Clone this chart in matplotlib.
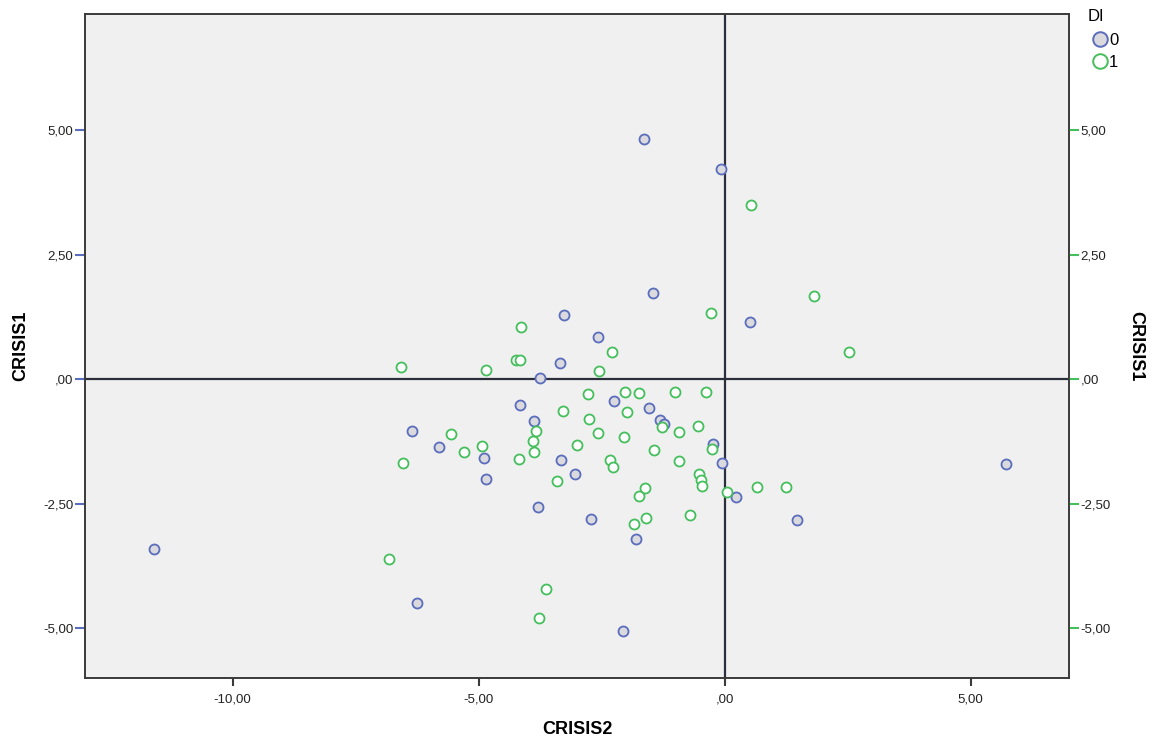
import matplotlib
matplotlib.use("Agg")
import matplotlib.pyplot as plt
from matplotlib.lines import Line2D
from matplotlib.ticker import FuncFormatter

# ── Data ──────────────────────────────────────────────────────────────────────

# DI = 0
di0_x = [-1.63, -0.08, -1.46, 0.51, -3.27, -2.58, -3.35, -3.76, -4.15, -3.88,
         -2.24, -1.54, -1.32, -1.24, -0.24, -0.06, 0.24, 1.48, 5.71, -6.36,
         -5.81, -4.90, -4.84, -3.33, -3.05, -3.80, -2.72, -1.81, -11.59, -6.26,
         -2.07]
di0_y = [4.82, 4.22, 1.73, 1.14, 1.29, 0.84, 0.32, 0.02, -0.52, -0.84,
         -0.44, -0.58, -0.82, -0.90, -1.31, -1.69, -2.37, -2.83, -1.71, -1.04,
         -1.37, -1.59, -2.01, -1.63, -1.91, -2.57, -2.81, -3.21, -3.41, -4.50,
         -5.06]

# DI = 1
di1_x = [0.53, 1.81, 2.52, -0.28, -4.13, -4.25, -4.15, -2.28, -2.56, -6.57,
         -4.84, -2.78, -2.03, -1.73, -1.00, -0.37, -3.29, -1.99, -2.76, -1.28,
         -0.55, -0.93, -2.58, -2.05, -3.84, -3.90, -3.88, -3.01, -5.57, -4.94,
         -5.30, -6.54, -4.17, -2.32, -2.26, -1.44, -0.93, -0.26, -0.53, -0.47,
         -0.45, 0.04, -3.41, -1.61, -1.75, -0.71, -1.59, -1.85, 0.65, 1.24,
         -6.83, -3.62, -3.78]
di1_y = [3.49, 1.67, 0.54, 1.33, 1.04, 0.38, 0.38, 0.54, 0.16, 0.24,
         0.18, -0.30, -0.26, -0.28, -0.26, -0.26, -0.64, -0.66, -0.80, -0.96,
         -0.94, -1.06, -1.08, -1.16, -1.04, -1.24, -1.47, -1.33, -1.10, -1.35,
         -1.47, -1.69, -1.61, -1.63, -1.77, -1.43, -1.65, -1.41, -1.91, -2.03,
         -2.15, -2.27, -2.05, -2.19, -2.35, -2.73, -2.79, -2.91, -2.17, -2.17,
         -3.61, -4.22, -4.80]

x_ticks = [-10, -5, 0, 5]
y_ticks = [-5, -2.5, 0, 2.5, 5]

BLUE = "#5b6dbd"
GREEN = "#45bf5c"
GREY_FILL = "#d9d9de"

plt.rcParams["font.family"] = ["Liberation Sans", "DejaVu Sans"]


def spss_fmt(v, pos=None):
    s = f"{v:.2f}".replace(".", ",")
    if s in ("0,00", "-0,00"):
        return ",00"
    return s


fig = plt.figure(figsize=(11.54, 7.39), dpi=100)
ax = fig.add_axes([85 / 1154, 1 - 678 / 739, (1069 - 85) / 1154, (678 - 14) / 739])
ax.set_facecolor("#f0f0f0")
ax.set_xlim(-13, 7)
ax.set_ylim(-6.0, 7.33)

# reference lines
ax.axhline(0, color="#2b2f3a", linewidth=1.6, zorder=1)
ax.axvline(0, color="#2b2f3a", linewidth=1.6, zorder=1)

ax.plot(di0_x, di0_y, "o", ms=7.2, mfc=GREY_FILL, mec=BLUE, mew=1.3,
        linestyle="none", zorder=3)
ax.plot(di1_x, di1_y, "o", ms=7.2, mfc="white", mec=GREEN, mew=1.3,
        linestyle="none", zorder=3)

for sp in ax.spines.values():
    sp.set_color("#3a3a3a")
    sp.set_linewidth(1.2)

ax.set_xticks(x_ticks)
ax.set_yticks(y_ticks)
ax.xaxis.set_major_formatter(FuncFormatter(spss_fmt))
ax.yaxis.set_major_formatter(FuncFormatter(spss_fmt))
ax.tick_params(axis="x", direction="out", length=6, width=1.5, color="#3a3a3a",
               labelsize=9.5, labelcolor="#222222", pad=5)
ax.tick_params(axis="y", direction="out", length=7.5, width=1.5, color=BLUE,
               labelsize=9.5, labelcolor="#222222", pad=1)

ax.set_xlabel("CRISIS2", fontsize=13, fontweight="bold", labelpad=11)
ax.set_ylabel("CRISIS1", fontsize=13, fontweight="bold", labelpad=10)

# right axis
ax2 = ax.twinx()
ax2.set_ylim(ax.get_ylim())
ax2.set_yticks(y_ticks)
ax2.yaxis.set_major_formatter(FuncFormatter(spss_fmt))
ax2.tick_params(axis="y", direction="out", length=7.5, width=1.5, color=GREEN,
                labelsize=9.5, labelcolor="#222222", pad=1)
ax2.set_ylabel("CRISIS1", fontsize=13, fontweight="bold", rotation=270,
               labelpad=24)
for sp in ax2.spines.values():
    sp.set_color("#3a3a3a")
    sp.set_linewidth(1.2)

# legend
handles = [
    Line2D([], [], marker="o", linestyle="none", ms=10.5, mfc=GREY_FILL, mec=BLUE, mew=1.4),
    Line2D([], [], marker="o", linestyle="none", ms=10.5, mfc="white", mec=GREEN, mew=1.4),
]
leg = fig.legend(handles, ["0", "1"], title="DI", loc="upper left",
                 bbox_to_anchor=(1084 / 1154, 1 - 6 / 739), frameon=False,
                 fontsize=12, title_fontsize=12, handletextpad=-0.2,
                 labelspacing=0.42, borderaxespad=0, handlelength=1.5,
                 borderpad=0.2)
leg._legend_box.align = "left"
leg._legend_box.sep = 6

fig.savefig("out.png", dpi=100)
